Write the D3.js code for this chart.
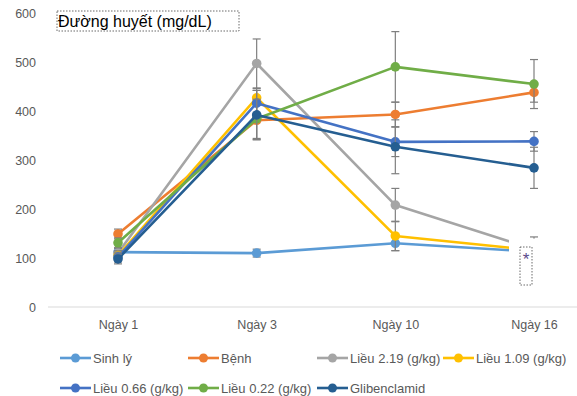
<!DOCTYPE html>
<html>
<head>
<meta charset="utf-8">
<script src="https://cdn.jsdelivr.net/npm/d3@7"></script>
<style>
  body { margin: 0; background: #fff; }
  text { font-family: "Liberation Sans", Arial, sans-serif; }
</style>
</head>
<body>
<div id="chart"></div>
<script>
// data
const days = ["Ngày 1", "Ngày 3", "Ngày 10", "Ngày 16"];
const yTicks = [0, 100, 200, 300, 400, 500, 600];
const names = ["Sinh lý", "Bệnh", "Liều 2.19 (g/kg)", "Liều 1.09 (g/kg)", "Liều 0.66 (g/kg)", "Liều 0.22 (g/kg)", "Glibenclamid"];
const colors = ["#5B9BD5", "#ED7D31", "#A5A5A5", "#FFC000", "#4472C4", "#70AD47", "#255E91"];

const sinhLy = [112, 110, 130, 113];
const benh = [149, 381, 393, 438];
const lieu219 = [110, 497, 208, 118];
const lieu109 = [105, 427, 145, 116];
const lieu066 = [102, 416, 337, 338];
const lieu022 = [131, 384, 490, 455];
const gliben = [98, 392, 327, 284];

const errSinhLy = [8, 8, 15, 10];
const errBenh = [10, 40, 25, 20];
const err219 = [10, 50, 34, 25];
const err109 = [10, 15, 30, 10];
const err066 = [10, 30, 30, 20];
const err022 = [10, 40, 72, 50];
const errGliben = [10, 50, 55, 42];

const values = [sinhLy, benh, lieu219, lieu109, lieu066, lieu022, gliben];
const errors = [errSinhLy, errBenh, err219, err109, err066, err022, errGliben];

const series = names.map((n, i) => ({
    name: n,
    color: colors[i],
    points: days.map((d, j) => ({ day: d, v: values[i][j], e: errors[i][j] }))
}));

const width = 577, height = 396;
const svg = d3.select("#chart").append("svg")
    .attr("width", width)
    .attr("height", height);

// Scales
const x = d3.scalePoint().domain(days).range([118, 534]);
const y = d3.scaleLinear().domain([0, 600]).range([307, 13]);

// Baseline at 0
svg.append("line")
    .attr("x1", 48).attr("x2", width)
    .attr("y1", y(0)).attr("y2", y(0))
    .attr("stroke", "#d9d9d9")
    .attr("stroke-width", 1);

// y axis labels (no axis line)
const yAxis = d3.axisLeft(y).tickValues(yTicks).tickSize(0).tickPadding(0);
svg.append("g")
    .attr("transform", "translate(36,0)")
    .call(yAxis)
    .call(g => g.select(".domain").remove())
    .selectAll("text")
    .attr("fill", "#595959")
    .style("font-size", "12.5px");

// x axis labels
const xAxis = d3.axisBottom(x).tickSize(0).tickPadding(0);
svg.append("g")
    .attr("transform", "translate(0,320)")
    .call(xAxis)
    .call(g => g.select(".domain").remove())
    .selectAll("text")
    .attr("fill", "#595959")
    .style("font-size", "12.5px");

const line = d3.line().x(d => x(d.day)).y(d => y(d.v));

// Series: line, error bars, markers
series.forEach(s => {
    const g = svg.append("g").attr("class", "series");
    g.append("path")
        .datum(s.points)
        .attr("d", line)
        .attr("fill", "none")
        .attr("stroke", s.color)
        .attr("stroke-width", 2.6)
        .attr("stroke-linejoin", "round");

    const eb = g.selectAll("g.err").data(s.points).enter().append("g")
        .attr("class", "err")
        .attr("stroke", "#7f7f7f")
        .attr("stroke-width", 1.2);
    eb.append("line")
        .attr("x1", d => x(d.day)).attr("x2", d => x(d.day))
        .attr("y1", d => y(d.v + d.e)).attr("y2", d => y(d.v - d.e));
    eb.append("line")
        .attr("x1", d => x(d.day) - 4).attr("x2", d => x(d.day) + 4)
        .attr("y1", d => y(d.v + d.e)).attr("y2", d => y(d.v + d.e));
    eb.append("line")
        .attr("x1", d => x(d.day) - 4).attr("x2", d => x(d.day) + 4)
        .attr("y1", d => y(d.v - d.e)).attr("y2", d => y(d.v - d.e));

    g.selectAll("circle").data(s.points).enter().append("circle")
        .attr("cx", d => x(d.day))
        .attr("cy", d => y(d.v))
        .attr("r", 4.8)
        .attr("fill", s.color);
});

// text box with * covering end of the low lines at Ngày 16
const x16 = x("Ngày 16");
svg.append("rect")
    .attr("x", x16 - 25).attr("y", 238.6)
    .attr("width", 40).attr("height", 52)
    .attr("fill", "#fff");
svg.append("rect")
    .attr("x", x16 - 14).attr("y", 247)
    .attr("width", 12).attr("height", 38)
    .attr("fill", "none")
    .attr("stroke", "#444")
    .attr("stroke-width", 0.8)
    .attr("stroke-dasharray", "1.5,1.5");
svg.append("text")
    .attr("x", x16 - 8).attr("y", 265)
    .attr("text-anchor", "middle")
    .attr("fill", "#5a4a8a")
    .style("font-size", "17px")
    .text("*");

// Title box
svg.append("rect")
    .attr("x", 57).attr("y", 11)
    .attr("width", 182).attr("height", 20)
    .attr("fill", "none")
    .attr("stroke", "#444")
    .attr("stroke-width", 0.8)
    .attr("stroke-dasharray", "1.5,1.5");
svg.append("text")
    .attr("x", 58).attr("y", 27)
    .attr("fill", "#000")
    .style("font-size", "16px")
    .text("Đường huyết (mg/dL)");

// Legend
const legendX = [60, 188, 317, 443];
const legendY = [358, 388];
const legend = svg.append("g").attr("class", "legend");
series.forEach((s, i) => {
    const lx = legendX[i % 4], ly = legendY[Math.floor(i / 4)];
    const item = legend.append("g").attr("transform", `translate(${lx},${ly})`);
    item.append("line")
        .attr("x1", 0).attr("x2", 31)
        .attr("y1", 0).attr("y2", 0)
        .attr("stroke", s.color)
        .attr("stroke-width", 2.6);
    item.append("circle")
        .attr("cx", 15.5).attr("cy", 0).attr("r", 4.5)
        .attr("fill", s.color);
    item.append("text")
        .attr("x", 33).attr("y", 0)
        .attr("dy", "0.35em")
        .attr("fill", "#595959")
        .style("font-size", "13px")
        .text(s.name);
});
</script>
</body>
</html>
